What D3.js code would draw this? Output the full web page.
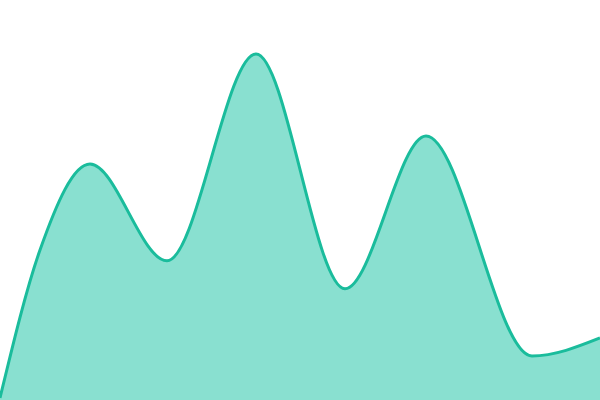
<!DOCTYPE html>
<html>
  <head>
    <meta charset="utf-8" />
    <script src="https://d3js.org/d3.v7.min.js"></script>
    <style>
        body { margin: 0; background: #fff; }
        svg { display: block; }
    </style>
  </head>
  <body>
    <svg id="area-viz" width="600" height="400"></svg>

    <script>
        // sample positions and values
        var steps = [0, 40, 90, 167, 256, 345, 426, 532, 600];
        var values = [0.5, 37.5, 59, 34.8, 86.5, 27.8, 66, 11, 15.5];

        var data = steps.map(function(s, i) {
            return { step: s, value: values[i] };
        });

        var width = 600, height = 400;

        var x = d3.scaleLinear().domain([0, 600]).range([0, width]);
        var y = d3.scaleLinear().domain([0, 100]).range([height, 0]);

        var svg = d3.select("#area-viz");

        var area = d3.area()
            .curve(d3.curveMonotoneX)
            .x(function(d) { return x(d.step); })
            .y0(height)
            .y1(function(d) { return y(d.value); });

        var line = d3.line()
            .curve(d3.curveMonotoneX)
            .x(function(d) { return x(d.step); })
            .y(function(d) { return y(d.value); });

        svg.append("path")
            .datum(data)
            .attr("fill", "#89e0d0")
            .attr("d", area);

        svg.append("path")
            .datum(data)
            .attr("fill", "none")
            .attr("stroke", "#1abc9c")
            .attr("stroke-width", 3)
            .attr("d", line);
    </script>
  </body>
</html>
